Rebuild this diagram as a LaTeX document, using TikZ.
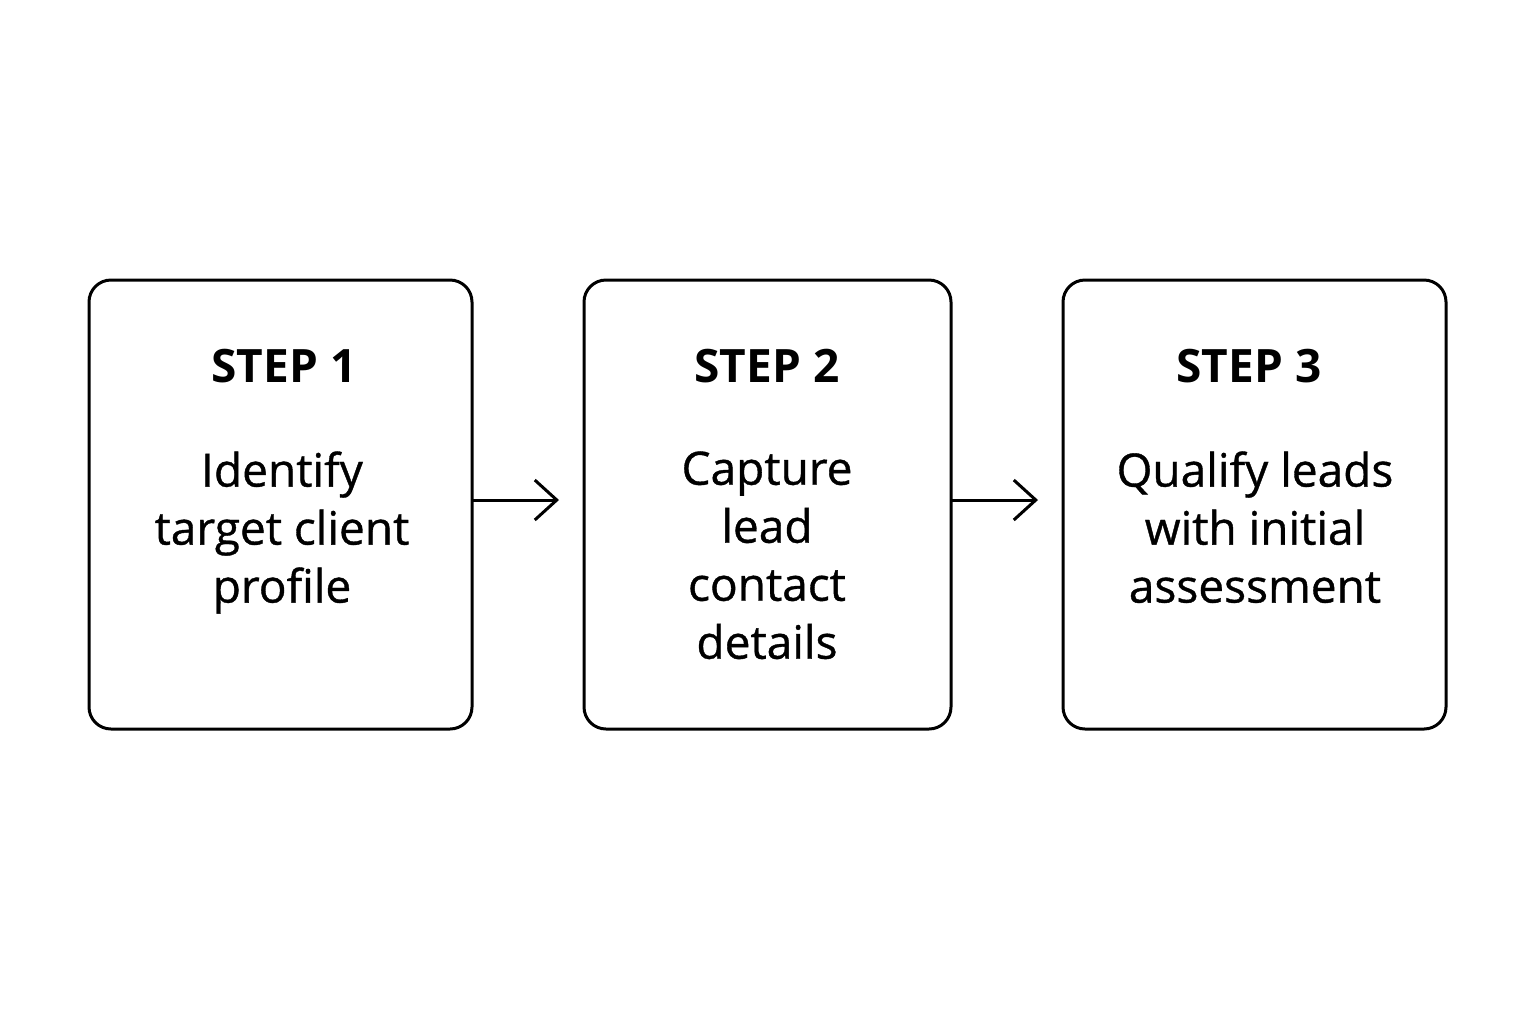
\documentclass[tikz,border=0pt]{standalone}
\usepackage{fontspec}
\setmainfont{Open Sans}
\newfontfamily\bodyfont[FakeBold=0.8]{Open Sans}
\usetikzlibrary{arrows.meta}
\begin{document}
\begin{tikzpicture}[x=0.5pt,y=-0.5pt,
  stepbox/.style={draw=black, line width=1.5pt, rounded corners=11pt, fill=white},
  title/.style={font=\fontsize{23}{28}\selectfont\bfseries, anchor=base, inner sep=0pt},
  body/.style={font=\fontsize{23}{29}\selectfont\bodyfont, align=center, anchor=north, inner sep=0pt},
  flow/.style={line width=1.5pt, -{Straight Barb[length=11pt,width=20pt,line width=1.5pt]}}]
\useasboundingbox[fill=white] (0,0) rectangle (1536,1024);
\draw[stepbox] (89,280) rectangle (472,729);
\draw[stepbox] (584,280) rectangle (951,729);
\draw[stepbox] (1063,280) rectangle (1446,729);
\coordinate (b1e) at (472,500);
\coordinate (b2w) at (559,500);
\coordinate (b2e) at (951,500);
\coordinate (b3w) at (1038,500);
\node[title] (t1) at (284,382) {STEP 1};
\node[title] (t2) at (767,382) {STEP 2};
\node[title] (t3) at (1249,382) {STEP 3};
\node[body] (d1) at (282,451) {Identify\\target client\\profile};
\node[body] (d2) at (767,451) {Capture\\lead\\contact\\details};
\node[body] (d3) at (1255,451) {Qualify leads\\with initial\\assessment};
\draw[flow] (b1e) -- (b2w);
\draw[flow] (b2e) -- (b3w);
\end{tikzpicture}
\end{document}
